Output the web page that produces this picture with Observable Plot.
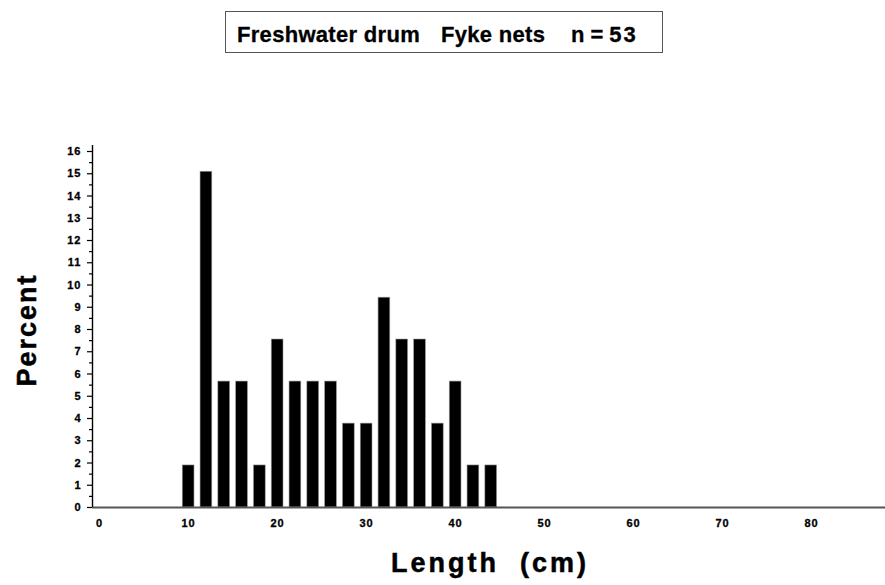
<!DOCTYPE html>
<html>
<head>
<meta charset="utf-8">
<script src="https://cdn.jsdelivr.net/npm/d3@7"></script>
<script src="https://cdn.jsdelivr.net/npm/@observablehq/plot@0.6"></script>
<style>
  html, body { margin: 0; padding: 0; background: #fff; }
  #wrap { position: relative; width: 885px; height: 585px; font-family: "Liberation Sans", Arial, sans-serif; }
  #title {
    position: absolute; left: 225px; top: 11px; width: 436px; height: 40px;
    border: 1.5px solid #555; box-sizing: content-box;
    font-weight: bold; font-size: 22px; letter-spacing: 0.3px; color: #000;
    -webkit-text-stroke: 0.3px #000;
  }
  #title > span { position: absolute; top: 10px; white-space: nowrap; line-height: normal; }
  svg text { font-family: "Liberation Sans", Arial, sans-serif; font-weight: bold; }
  .tick-lbl text { letter-spacing: 1px; stroke: #000; stroke-width: 0.3px; }
  .axis-title { stroke: #000; stroke-width: 0.5px; }
</style>
</head>
<body>
<div id="wrap">
  <div id="chart"></div>
  <div id="title"><span style="left:11px">Freshwater drum</span><span style="left:215px">Fyke nets</span><span style="left:345px; letter-spacing:6px">n=<span style="letter-spacing:2px">53</span></span></div>
</div>
<script>
const lengths = [10, 12, 14, 16, 18, 20, 22, 24, 26, 28, 30, 32, 34, 36, 38, 40, 42, 44];
const percents = [1.89, 15.09, 5.66, 5.66, 1.89, 7.55, 5.66, 5.66, 5.66, 3.77, 3.77, 9.43, 7.55, 7.55, 3.77, 5.66, 1.89, 1.89];
const xTicks = [0, 10, 20, 30, 40, 50, 60, 70, 80];
const yTicks = [0, 1, 2, 3, 4, 5, 6, 7, 8, 9, 10, 11, 12, 13, 14, 15, 16];
const yMinorTicks = d3.range(0.5, 16.5, 1);
const xLabel = "Length  (cm)";
const yLabel = "Percent";

const data = lengths.map((len, i) => ({len, pct: percents[i]}));
const halfWidth = 0.66;
const xMin = -0.8, xMax = 88.3;

const chart = Plot.plot({
  width: 885,
  height: 585,
  marginLeft: 92,
  marginRight: 0,
  marginTop: 145,
  marginBottom: 78,
  style: {fontFamily: "Liberation Sans, Arial, sans-serif", fontSize: "11px", fontWeight: "bold", color: "#000", background: "#fff"},
  x: {domain: [xMin, xMax]},
  y: {domain: [0, 16.27]},
  marks: [
    Plot.rectY(data, {x1: d => d.len - halfWidth, x2: d => d.len + halfWidth, y: "pct", fill: "#000", stroke: "#999", strokeWidth: 0.6}),
    Plot.ruleY([0], {stroke: "#555", strokeWidth: 2.2}),
    Plot.ruleX([xMin], {stroke: "#000", strokeWidth: 1.4}),
    Plot.axisY({ticks: yTicks, tickSize: 5, tickPadding: 6, label: null, className: "tick-lbl", strokeWidth: 1.2}),
    Plot.axisY({ticks: yMinorTicks, tickSize: 3, tickFormat: () => "", label: null, strokeWidth: 1.2}),
    Plot.axisX({ticks: xTicks, tickSize: 0, tickPadding: 12, label: null, className: "tick-lbl"})
  ]
});
document.getElementById("chart").appendChild(chart);

const svg = d3.select(chart);
svg.append("text")
  .attr("class", "axis-title")
  .attr("x", 490).attr("y", 572)
  .attr("text-anchor", "middle")
  .style("font-size", "27px").style("letter-spacing", "3px").style("font-weight", "bold")
  .attr("xml:space", "preserve")
  .style("white-space", "pre")
  .text(xLabel);
svg.append("text")
  .attr("class", "axis-title")
  .attr("transform", "translate(36,330) rotate(-90)")
  .attr("text-anchor", "middle")
  .style("font-size", "27px").style("letter-spacing", "2px").style("font-weight", "bold")
  .text(yLabel);
</script>
</body>
</html>
